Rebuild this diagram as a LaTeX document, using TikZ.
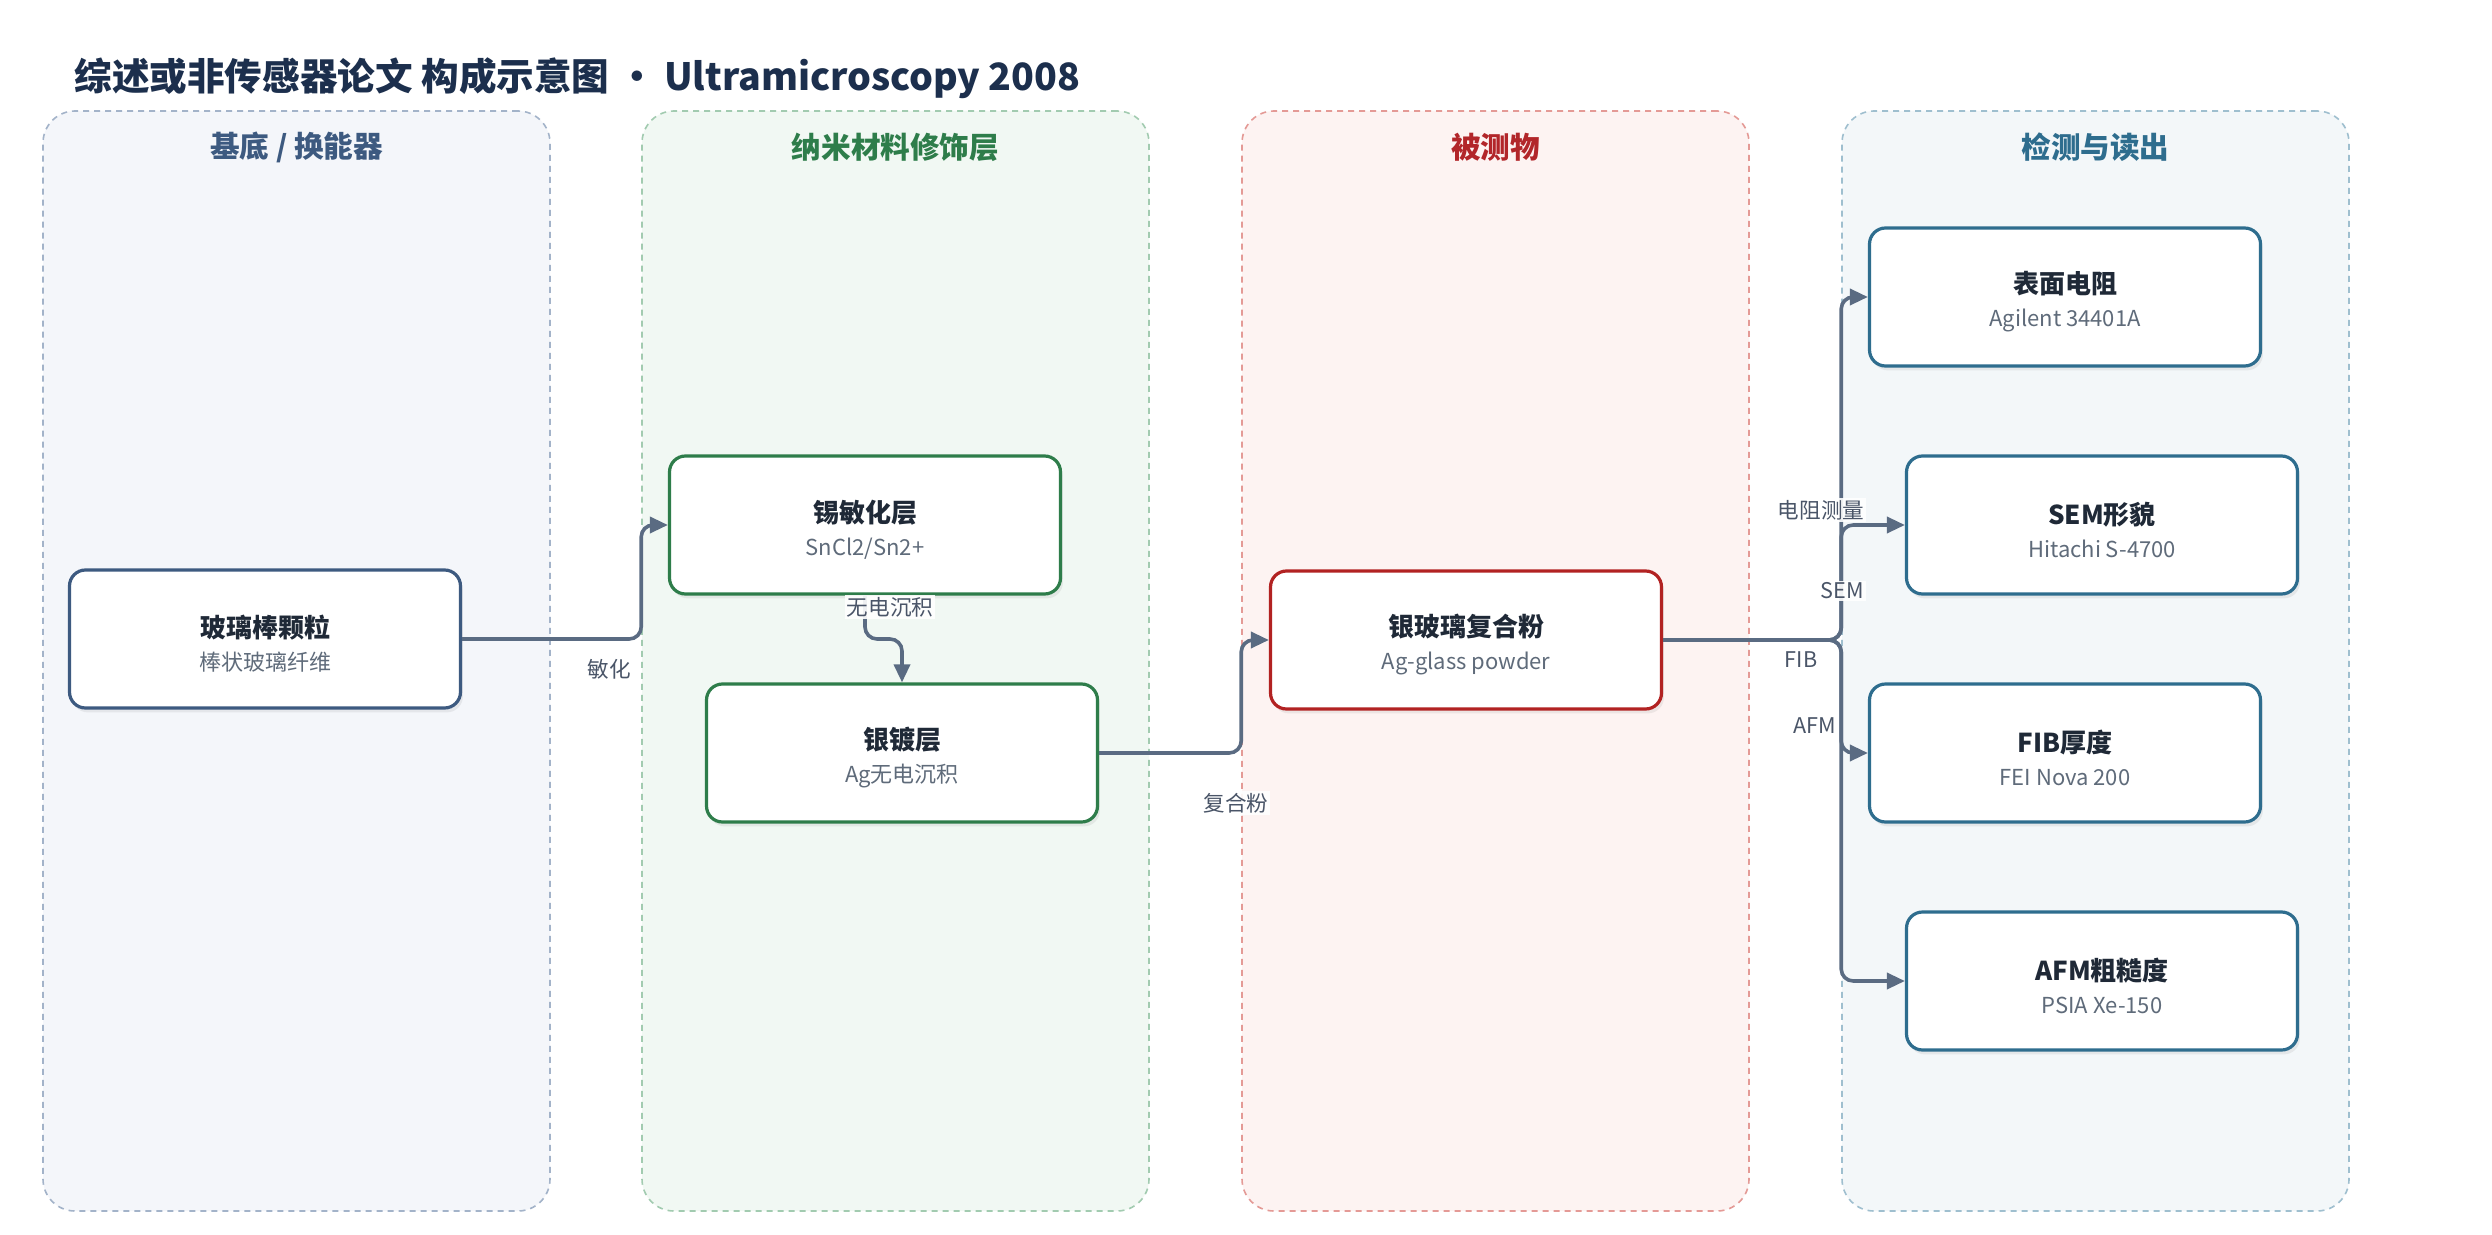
\documentclass[tikz,border=0pt]{standalone}
\usepackage{fontspec}
\setmainfont{Noto Sans CJK SC}
\usetikzlibrary{arrows.meta,shadows,calc}
\definecolor{titlec}{HTML}{1C2F4D}
\definecolor{l1fill}{HTML}{F4F6FA}\definecolor{l1bord}{HTML}{A3B3C9}\definecolor{l1text}{HTML}{3D5A80}
\definecolor{l2fill}{HTML}{F1F8F3}\definecolor{l2bord}{HTML}{A2CBB0}\definecolor{l2text}{HTML}{2E7D4A}
\definecolor{l3fill}{HTML}{FDF3F2}\definecolor{l3bord}{HTML}{E49A96}\definecolor{l3text}{HTML}{B2262A}
\definecolor{l4fill}{HTML}{F3F7F9}\definecolor{l4bord}{HTML}{9FBFCF}\definecolor{l4text}{HTML}{2E6D8E}
\definecolor{c1}{HTML}{3D5A80}\definecolor{c2}{HTML}{2E7D4A}\definecolor{c3}{HTML}{B22222}\definecolor{c4}{HTML}{2E6D8E}
\definecolor{maintext}{HTML}{1F2937}\definecolor{subtext}{HTML}{5F6B7A}
\definecolor{edgec}{HTML}{5A6B82}\definecolor{labc}{HTML}{4A5568}
\newcommand{\mainT}[1]{{\bfseries\fontsize{13}{16.5}\selectfont\color{maintext}\rule{0pt}{16pt}#1}}
\newcommand{\subT}[1]{{\fontsize{11}{16.5}\selectfont\color{subtext}#1}}
\tikzset{
  lanebox/.style={draw=#1bord, fill=#1fill, line width=0.8pt, dash pattern=on 3pt off 2.5pt,
    rounded corners=16pt, minimum width=253.5pt, minimum height=550pt, inner sep=0pt},
  lanetitle/.style={text=#1text, font=\bfseries\fontsize{14.8}{17}\selectfont},
  card/.style={draw=#1, fill=white, line width=1.6pt, rounded corners=8pt,
    minimum width=195.5pt, minimum height=69pt, align=center,
    font=\fontsize{11}{16.5}\selectfont,
    drop shadow={opacity=0.13, shadow xshift=1.2pt, shadow yshift=-2.2pt}},
  edge/.style={draw=edgec, line width=1.8pt, rounded corners=6pt,
    -{Triangle[length=9pt,width=8pt]}},
  elab/.style={fill=white, fill opacity=0.9, text opacity=1, text=labc, inner sep=1pt,
    font=\fontsize{10.8}{12}\selectfont}
}
\begin{document}
\begin{tikzpicture}[x=0.5pt,y=-0.5pt]
\useasboundingbox (0,0) rectangle (2492,1235);
\fill[white] (0,0) rectangle (2492,1235);
% title
\node[anchor=west, text=titlec, font=\bfseries\fontsize{18.8}{22}\selectfont, inner sep=0pt] (title) at (74,78)
  {综述或非传感器论文 构成示意图 • Ultramicroscopy 2008};
% lanes
\node[lanebox=l1] (lane1) at (296.5,661) {};
\node[lanebox=l2] (lane2) at (895.5,661) {};
\node[lanebox=l3] (lane3) at (1495.5,661) {};
\node[lanebox=l4] (lane4) at (2095.5,661) {};
\node[lanetitle=l1] (t1) at (296.5,147) {基底 / 换能器};
\node[lanetitle=l2] (t2) at (895.5,147) {纳米材料修饰层};
\node[lanetitle=l3] (t3) at (1495.5,147) {被测物};
\node[lanetitle=l4] (t4) at (2095.5,147) {检测与读出};
% cards
\node[card=c1] (n1) at (265,639) {\mainT{玻璃棒颗粒}\\\subT{棒状玻璃纤维}};
\node[card=c2] (n2) at (865,525) {\mainT{锡敏化层}\\\subT{SnCl2/Sn2+}};
\node[card=c2] (n3) at (902,753) {\mainT{银镀层}\\\subT{Ag无电沉积}};
\node[card=c3] (n4) at (1466,640) {\mainT{银玻璃复合粉}\\\subT{Ag-glass powder}};
\node[card=c4] (n5) at (2065,297) {\mainT{表面电阻}\\\subT{Agilent 34401A}};
\node[card=c4] (n6) at (2102,525) {\mainT{SEM形貌}\\\subT{Hitachi S-4700}};
\node[card=c4] (n7) at (2065,753) {\mainT{FIB厚度}\\\subT{FEI Nova 200}};
\node[card=c4] (n8) at (2102,981) {\mainT{AFM粗糙度}\\\subT{PSIA Xe-150}};
% connectors
\coordinate (m2) at (n2.south |- n1.east);
\draw[edge] (n1.east) -- (n1.east -| lane2.west) |- (n2.west);
\draw[edge] (n2.south) -- (m2) -| (n3.north);
\draw[edge] (n3.east) -- (n3.east -| lane3.west) |- (n4.west);
\draw[edge] (n4.east) -- (n4.east -| lane4.west) |- (n5.west);
\draw[edge] (n4.east) -- (n4.east -| lane4.west) |- (n6.west);
\draw[edge] (n4.east) -- (n4.east -| lane4.west) |- (n7.west);
\draw[edge] (n4.east) -- (n4.east -| lane4.west) |- (n8.west);
% labels
\node[elab] (la1) at (609,669) {敏化};
\node[elab] (la2) at (890,607) {无电沉积};
\node[elab] (la3) at (1236,803) {复合粉};
\node[elab] (la4) at (1821,510) {电阻测量};
\node[elab] (la5) at (1842,591) {SEM};
\node[elab] (la6) at (1801,660) {FIB};
\node[elab] (la7) at (1815,726) {AFM};
\end{tikzpicture}
\end{document}
